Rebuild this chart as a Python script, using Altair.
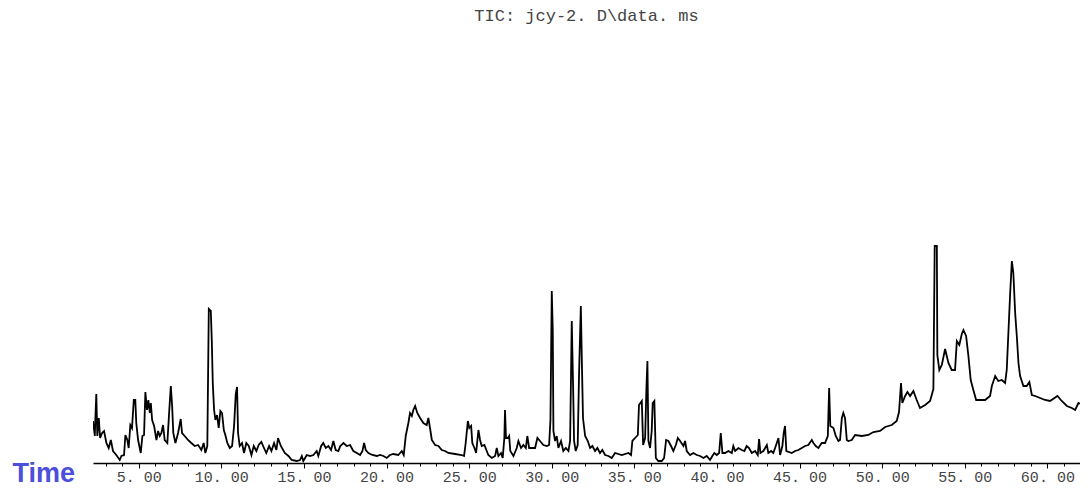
import altair as alt
import pandas as pd

# Retention time (min) and total ion current (arbitrary units)
seg1_time = [2.23, 2.34, 2.37, 2.43, 2.49, 2.58, 2.66, 2.78, 2.90, 3.04,
             3.18, 3.31, 3.44, 3.64, 3.85, 3.95, 4.11, 4.19, 4.31, 4.39,
             4.49, 4.59, 4.70, 4.79, 4.85, 4.96, 5.12, 5.22, 5.32, 5.40,
             5.50, 5.58, 5.67, 5.73, 5.81, 5.93, 6.07, 6.17, 6.27, 6.37,
             6.47, 6.57, 6.73, 6.83, 6.94, 7.02, 7.09, 7.22, 7.38, 7.54,
             7.62, 7.78, 7.98, 8.18, 8.39, 8.59, 8.79, 8.93, 9.03, 9.15,
             9.24, 9.36, 9.42, 9.48, 9.56, 9.64, 9.74, 9.84, 9.94, 10.04,
             10.15, 10.24, 10.36, 10.51, 10.65, 10.77, 10.87, 10.95, 11.01, 11.11,
             11.25, 11.37, 11.51, 11.66, 11.82, 11.96, 12.12, 12.26, 12.42, 12.58,
             12.72, 12.89, 13.03, 13.19, 13.33, 13.43, 13.60, 13.84]
seg1_tic = [42, 27, 43, 69, 27, 45, 25, 30, 32, 20,
            15, 23, 12, 8, 3, 7, 8, 28, 23, 15,
            38, 35, 63, 63, 40, 23, 10, 27, 28, 71,
            53, 63, 50, 60, 43, 37, 23, 32, 27, 30,
            38, 23, 20, 48, 77, 57, 30, 20, 30, 44,
            30, 27, 23, 20, 17, 18, 13, 20, 10, 17,
            154, 152, 123, 80, 53, 43, 48, 35, 52, 50,
            33, 28, 20, 15, 17, 37, 69, 76, 30, 17,
            20, 10, 20, 17, 8, 17, 12, 18, 21, 15,
            10, 17, 12, 20, 13, 25, 17, 10]

seg2_time = [14.06, 14.26, 14.56, 14.76, 14.87, 14.96, 15.17, 15.37, 15.57, 15.77,
             15.87, 16.04, 16.17, 16.32, 16.48, 16.64, 16.78, 16.92, 17.08, 17.20,
             17.39, 17.59, 17.79, 17.99, 18.20, 18.40, 18.54, 18.64, 18.74, 18.90,
             19.14, 19.41, 19.61, 19.81, 20.01, 20.21, 20.41, 20.71, 20.92, 21.04,
             21.16, 21.32, 21.42, 21.53, 21.62, 21.73, 21.86, 22.03, 22.23, 22.43,
             22.53, 22.63, 22.74, 22.94, 23.14, 23.34, 23.54, 23.74, 24.15, 24.55,
             24.69, 24.79, 24.92, 25.01, 25.12, 25.19, 25.32, 25.42, 25.56, 25.66,
             25.76, 25.92]
seg2_tic = [7, 3, 2, 3, 7, 2, 8, 7, 8, 12,
            7, 17, 20, 15, 17, 13, 22, 13, 12, 17,
            20, 17, 18, 12, 10, 8, 12, 20, 13, 10,
            8, 7, 8, 7, 5, 8, 9, 8, 12, 8,
            27, 40, 50, 47, 53, 57, 50, 45, 40, 38,
            45, 35, 23, 18, 17, 13, 12, 10, 9, 8,
            7, 20, 42, 35, 37, 20, 15, 10, 33, 23,
            17, 18]

seg3_time = [26.16, 26.37, 26.57, 26.67, 26.77, 26.93, 27.03, 27.13, 27.17, 27.23,
             27.34, 27.42, 27.49, 27.68, 27.88, 27.98, 28.14, 28.28, 28.43, 28.52,
             28.63, 28.99, 29.13, 29.29, 29.49, 29.70, 29.84, 29.92, 30.00, 30.06,
             30.10, 30.20, 30.30, 30.40, 30.56, 30.70, 30.85, 31.01, 31.11, 31.21,
             31.29, 31.35, 31.45, 31.57, 31.65, 31.76, 31.82, 31.89, 32.02, 32.18,
             32.32, 32.46, 32.62, 32.76, 32.92, 33.06, 33.23, 33.43, 33.63, 33.83,
             34.24, 34.64, 34.80, 34.88, 35.04, 35.21, 35.28, 35.45, 35.53, 35.65,
             35.73, 35.79, 35.85, 35.95, 36.05, 36.11, 36.21, 36.30, 36.45, 36.66,
             36.80, 36.92, 37.06, 37.22, 37.36, 37.51, 37.63, 37.77, 37.97]
seg3_tic = [8, 5, 7, 15, 7, 10, 5, 25, 53, 25,
            25, 27, 12, 7, 15, 22, 15, 18, 15, 27,
            15, 15, 25, 22, 18, 17, 18, 43, 172, 133,
            32, 22, 27, 15, 22, 12, 15, 12, 22, 142,
            78, 22, 12, 18, 88, 157, 103, 45, 27, 22,
            15, 17, 12, 15, 10, 13, 8, 7, 5, 10,
            8, 10, 8, 22, 25, 28, 58, 62, 18, 25,
            75, 102, 22, 15, 32, 60, 62, 5, 2, 2,
            5, 23, 22, 17, 12, 18, 25, 22, 17]

seg4_time = [38.07, 38.17, 38.37, 38.57, 38.78, 38.98, 39.18, 39.38, 39.58, 39.72,
             39.84, 39.99, 40.13, 40.23, 40.33, 40.49, 40.69, 40.90, 40.99, 41.10,
             41.30, 41.50, 41.66, 41.80, 41.94, 42.11, 42.31, 42.47, 42.55, 42.63,
             42.81, 43.02, 43.11, 43.28, 43.41, 43.56, 43.72, 43.82, 43.96, 44.04,
             44.12, 44.20, 44.53, 44.73, 44.93, 45.13, 45.33, 45.53, 45.74, 45.84,
             45.98, 46.14, 46.34, 46.54, 46.71, 46.79, 46.86, 47.05, 47.19, 47.35,
             47.45, 47.56, 47.65, 47.75, 47.86, 47.95, 48.16, 48.36, 48.77, 49.16,
             49.47, 49.87, 50.18]
seg4_tic = [22, 12, 8, 10, 8, 7, 5, 7, 3, 7,
            10, 8, 10, 30, 10, 10, 12, 10, 17, 12,
            15, 13, 12, 17, 15, 10, 12, 8, 24, 10,
            12, 18, 10, 12, 10, 17, 25, 8, 17, 30,
            37, 12, 10, 12, 13, 15, 17, 18, 23, 20,
            17, 15, 20, 20, 27, 75, 37, 35, 27, 22,
            23, 45, 50, 45, 23, 22, 23, 28, 27, 28,
            31, 32, 36]

seg5_time = [50.58, 50.88, 51.02, 51.14, 51.22, 51.39, 51.53, 51.69, 51.89, 52.09,
             52.29, 52.60, 52.90, 53.10, 53.18, 53.31, 53.34, 53.46, 53.61, 53.81,
             54.01, 54.21, 54.41, 54.52, 54.67, 54.82, 54.92, 55.08, 55.22, 55.36,
             55.52, 55.69, 55.93, 56.23, 56.53, 56.64, 56.84, 57.03, 57.24, 57.44,
             57.54, 57.64, 57.74, 57.85, 57.94, 58.05, 58.15, 58.25, 58.35, 58.55,
             58.75, 58.91, 59.06, 59.26, 59.56, 59.86, 60.16, 60.61, 60.87, 61.18,
             61.48, 61.68, 61.88, 62.18, 62.34]
seg5_tic = [38, 42, 51, 80, 60, 67, 71, 67, 72, 63,
            55, 58, 62, 74, 217, 217, 108, 93, 98, 114,
            100, 93, 93, 122, 118, 129, 133, 127, 107, 83,
            73, 63, 63, 63, 67, 77, 87, 82, 83, 80,
            93, 130, 167, 202, 190, 150, 127, 100, 87, 77,
            77, 81, 68, 67, 65, 63, 62, 67, 62, 57,
            55, 53, 60, 58, 90]

time_min = seg1_time + seg2_time + seg3_time + seg4_time + seg5_time
tic = seg1_tic + seg2_tic + seg3_tic + seg4_tic + seg5_tic
assert len(time_min) == len(tic)

tick_values = list(range(3, 62))
x_domain = [2.23, 61.975]
y_domain = [0, 433]

df = pd.DataFrame({"time": time_min, "tic": tic})

chart = alt.Chart(df).mark_line(color="black", strokeWidth=1.8, clip=True).encode(
    x=alt.X(
        "time:Q",
        scale=alt.Scale(domain=x_domain, nice=False, zero=False),
        axis=alt.Axis(
            values=tick_values,
            labelExpr="datum.value % 5 === 0 ? replace(format(datum.value, '.2f'), '.', '. ') : ''",
            labelFont="Liberation Mono",
            labelFontSize=15,
            labelColor="#444444",
            labelPadding=1,
            labelOverlap=False,
            labelFlush=False,
            domainColor="black",
            domainWidth=1.5,
            tickColor="black",
            tickWidth=1,
            tickSize={"condition": {"test": "datum.value % 5 === 0", "value": 5}, "value": 3},
            grid=False,
            title="Time",
            titleX=-81,
            titleY=18,
            titleAlign="left",
            titleBaseline="alphabetic",
            titleFont="Liberation Sans",
            titleFontSize=27,
            titleFontWeight="bold",
            titleColor="#4b4fd9",
        ),
    ),
    y=alt.Y("tic:Q", scale=alt.Scale(domain=y_domain, nice=False), axis=None),
).properties(
    width=987,
    height=433,
    title=alt.TitleParams(
        text="TIC:  jcy-2. D\\data. ms",
        font="Liberation Mono",
        fontSize=17,
        fontWeight="normal",
        color="#444444",
        anchor="middle",
        offset=5,
    ),
    autosize=alt.AutoSizeParams(type="none"),
    padding={"left": 85, "top": 22, "right": 0, "bottom": 25},
    background="white",
).configure_view(stroke=None)

chart.save("out.html", embed_options={"renderer": "svg", "actions": False})
